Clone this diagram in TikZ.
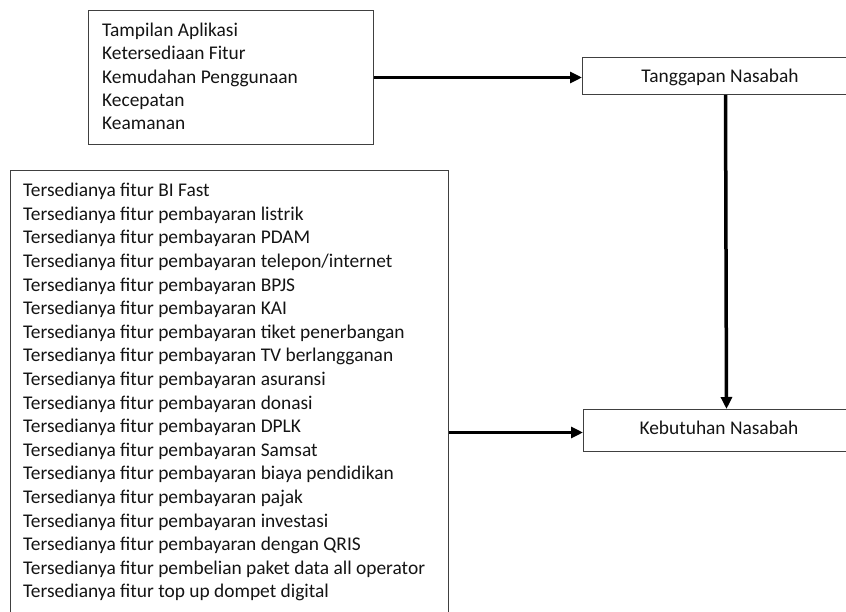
\documentclass[tikz,border=0pt]{standalone}
\usepackage{fontspec}
\setmainfont{Carlito}
\usetikzlibrary{arrows.meta}
\definecolor{edgecol}{HTML}{404040}
\definecolor{txtcol}{HTML}{141414}
\tikzset{
  boxstyle/.style={draw=edgecol, line width=1pt, fill=white, rectangle, inner sep=0pt, anchor=north west},
  linetext/.style={anchor=base west, inner sep=0pt, text=txtcol, font=\fontsize{19.4}{23}\selectfont},
  centertext/.style={anchor=base, inner sep=0pt, text=txtcol, font=\fontsize{19.4}{23}\selectfont},
  bigarrow/.style={line width=3.5pt, -{Triangle[length=12pt,width=11pt]}}
}
\begin{document}
\begin{tikzpicture}[x=1pt,y=-1pt]
\path[use as bounding box, clip] (0,0) rectangle (846,612);
% boxes
\node[boxstyle, minimum width=285pt, minimum height=134pt] (top) at (88,10) {};
\node[boxstyle, minimum width=286pt, minimum height=37pt] (tang) at (582,57) {};
\node[boxstyle, minimum width=286pt, minimum height=42pt] (keb) at (583,409) {};
\node[boxstyle, minimum width=438pt, minimum height=460pt] (bot) at (10,170) {};
% texts of top box
\foreach \t [count=\i] in {Tampilan Aplikasi, Ketersediaan Fitur, Kemudahan Penggunaan, Kecepatan, Keamanan}
  \node[linetext] (ta\i) at (102, {36.7 + (\i-1)*23.3}) {\t};
% texts of bottom box
\foreach \t [count=\i] in {
  Tersedianya fitur BI Fast,
  Tersedianya fitur pembayaran listrik,
  Tersedianya fitur pembayaran PDAM,
  Tersedianya fitur pembayaran telepon/internet,
  Tersedianya fitur pembayaran BPJS,
  Tersedianya fitur pembayaran KAI,
  Tersedianya fitur pembayaran tiket penerbangan,
  Tersedianya fitur pembayaran TV berlangganan,
  Tersedianya fitur pembayaran asuransi,
  Tersedianya fitur pembayaran donasi,
  Tersedianya fitur pembayaran DPLK,
  Tersedianya fitur pembayaran Samsat,
  Tersedianya fitur pembayaran biaya pendidikan,
  Tersedianya fitur pembayaran pajak,
  Tersedianya fitur pembayaran investasi,
  Tersedianya fitur pembayaran dengan QRIS,
  Tersedianya fitur pembelian paket data all operator,
  Tersedianya fitur top up dompet digital}
  \node[linetext] (tb\i) at (23, {196.7 + (\i-1)*23.6}) {\t};
% labels of right boxes
\node[centertext] (tangtxt) at (720,82.7) {Tanggapan Nasabah};
\node[centertext] (kebtxt) at (719,434) {Kebutuhan Nasabah};
% connectors
\draw[bigarrow] ([yshift=-1.5pt]top.east |- tang.west) -- ([yshift=-1.5pt]tang.west);
\draw[bigarrow] (tang.south) -- (keb.north);
\draw[bigarrow] ([yshift=-2pt]bot.east |- keb.west) -- ([yshift=-2pt]keb.west);
\end{tikzpicture}
\end{document}
